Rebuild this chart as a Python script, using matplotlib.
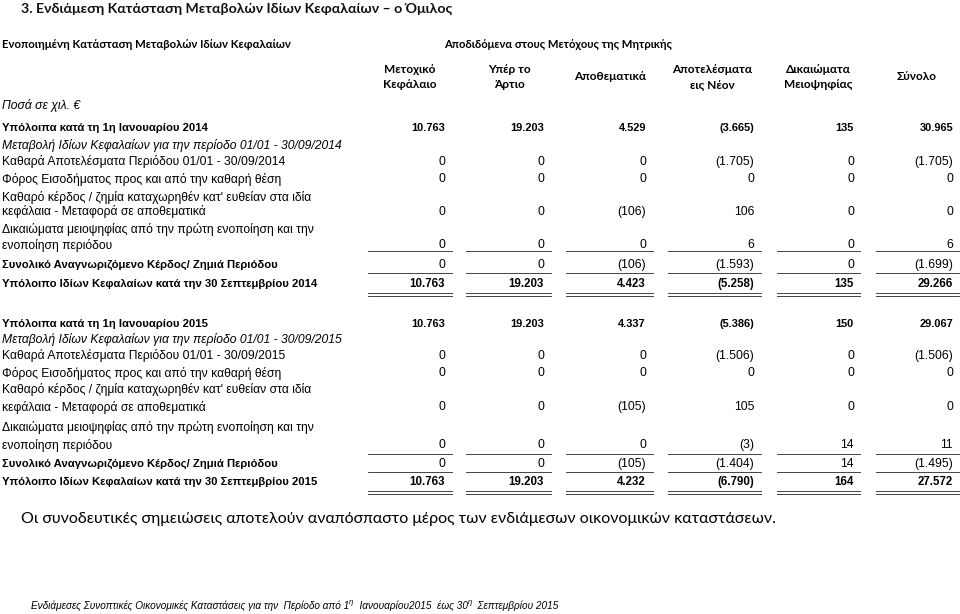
import matplotlib
matplotlib.use("Agg")
import matplotlib.pyplot as plt

# column headers and row labels
col_headers = ["Μετοχικό\nΚεφάλαιο", "Υπέρ το\nΆρτιο", "Αποθεματικά",
               "Αποτελέσματα\nεις Νέον", "Δικαιώματα\nΜειοψηφίας", "Σύνολο"]

labels_2014 = [["Υπόλοιπα κατά τη 1η Ιανουαρίου 2014"],
               ["Μεταβολή Ιδίων Κεφαλαίων για την περίοδο 01/01 - 30/09/2014"],
               ["Καθαρά Αποτελέσματα Περιόδου 01/01 - 30/09/2014"],
               ["Φόρος Εισοδήματος προς και από την καθαρή θέση"],
               ["Καθαρό κέρδος / ζημία καταχωρηθέν κατ' ευθείαν στα ιδία",
                "κεφάλαια - Μεταφορά σε αποθεματικά"],
               ["Δικαιώματα μειοψηφίας από την πρώτη ενοποίηση και την",
                "ενοποίηση περιόδου"],
               ["Συνολικό Αναγνωριζόμενο Κέρδος/ Ζημιά Περιόδου"],
               ["Υπόλοιπο Ιδίων Κεφαλαίων κατά την 30 Σεπτεμβρίου 2014"]]
labels_2015 = [[s.replace("2014", "2015") for s in lab] for lab in labels_2014]

open_2014 = ["10.763", "19.203", "4.529", "(3.665)", "135", "30.965"]
net_2014 = ["0", "0", "0", "(1.705)", "0", "(1.705)"]
tax_2014 = ["0", "0", "0", "0", "0", "0"]
transfer_2014 = ["0", "0", "(106)", "106", "0", "0"]
minority_2014 = ["0", "0", "0", "6", "0", "6"]
total_2014 = ["0", "0", "(106)", "(1.593)", "0", "(1.699)"]
close_2014 = ["10.763", "19.203", "4.423", "(5.258)", "135", "29.266"]

open_2015 = ["10.763", "19.203", "4.337", "(5.386)", "150", "29.067"]
net_2015 = ["0", "0", "0", "(1.506)", "0", "(1.506)"]
tax_2015 = ["0", "0", "0", "0", "0", "0"]
transfer_2015 = ["0", "0", "(105)", "105", "0", "0"]
minority_2015 = ["0", "0", "0", "(3)", "14", "11"]
total_2015 = ["0", "0", "(105)", "(1.404)", "14", "(1.495)"]
close_2015 = ["10.763", "19.203", "4.232", "(6.790)", "164", "27.572"]

# layout (pixels)
col_right = [445, 544, 646, 754, 854, 953]
col_center = [410, 509, 610, 712, 818, 917]
line_x = [(368, 452), (466, 551), (566, 653), (668, 761), (777, 860), (876, 959)]

SANS = ["Liberation Sans", "DejaVu Sans"]
HEAD = ["Lato", "DejaVu Sans"]
FS = 8.7
LC = "#444444"

fig = plt.figure(figsize=(9.6, 6.14), dpi=100)
ax = fig.add_axes([0, 0, 1, 1])
ax.set_xlim(0, 960)
ax.set_ylim(614, 0)
ax.axis("off")

ax.text(21, 9, "3. Ενδιάμεση Κατάσταση Μεταβολών Ιδίων Κεφαλαίων – ο Όμιλος",
        family=HEAD, fontsize=10.2, weight="bold", va="center", color="#111111")
ax.text(2, 44, "Ενοποιημένη Κατάσταση Μεταβολών Ιδίων Κεφαλαίων",
        family=HEAD, fontsize=8.2, weight="bold", va="center")
ax.text(558, 44, "Αποδιδόμενα στους Μετόχους της Μητρικής",
        family=HEAD, fontsize=8.1, weight="bold", va="center", ha="center")
for cx, h in zip(col_center, col_headers):
    ax.text(cx, 77, h, family=HEAD, fontsize=8.6, weight="bold",
            va="center", ha="center", linespacing=1.4)
ax.text(2, 106, "Ποσά σε χιλ. €", family=SANS, fontsize=FS, style="italic", va="center")


def section(labels, rows, ys, y_lines):
    kinds = ["open", "italic", "n", "n", "n", "n", "total", "close"]
    data = [rows[0], None, rows[1], rows[2], rows[3], rows[4], rows[5], rows[6]]
    for lab, yy, kind, vals in zip(labels, ys, kinds, data):
        kw = dict(family=SANS, fontsize=FS, va="center")
        nkw = dict(family=SANS, fontsize=FS, va="center", ha="right")
        if kind == "italic":
            kw["style"] = "italic"
        if kind in ("open", "total", "close"):
            kw["weight"] = "bold"
            kw["fontsize"] = 8.1
        if kind == "open":
            nkw.update(weight="bold", fontsize=7.9)
        if kind == "close":
            nkw.update(weight="bold", fontsize=8.3)
        for line, y in zip(lab, yy):
            ax.text(2, y, line, **kw)
        if vals is not None:
            for xr, v in zip(col_right, vals):
                ax.text(xr, yy[-1], v, **nkw)
    for x0, x1 in line_x:
        for ly in y_lines:
            ax.plot([x0, x1], [ly, ly], color=LC, lw=0.7)


section(labels_2014,
        [open_2014, net_2014, tax_2014, transfer_2014, minority_2014, total_2014, close_2014],
        [[128], [145], [162], [179], [197, 212], [229, 245], [265], [284]],
        (251, 273, 293, 296))
section(labels_2015,
        [open_2015, net_2015, tax_2015, transfer_2015, minority_2015, total_2015, close_2015],
        [[324], [339], [356], [373], [390, 407], [428, 445], [464], [482]],
        (454, 472, 491, 494))

ax.text(21, 519, "Οι συνοδευτικές σημειώσεις αποτελούν αναπόσπαστο μέρος των ενδιάμεσων οικονομικών καταστάσεων.",
        family=HEAD, fontsize=11.5, va="center")

# footer with superscripts
fig.canvas.draw()
rend = fig.canvas.get_renderer()
parts = [("Ενδιάμεσες Συνοπτικές Οικονομικές Καταστάσεις για την  Περίοδο από 1", False),
         ("η", True), ("  Ιανουαρίου2015  έως 30", False), ("η", True),
         ("  Σεπτεμβρίου 2015", False)]
x = 31
for s, sup in parts:
    t = ax.text(x, 602 if sup else 606, s, family=SANS,
                fontsize=5.5 if sup else 7.2, style="italic", va="center")
    bb = t.get_window_extent(renderer=rend)
    x += bb.width

fig.savefig("out.png", dpi=100)
